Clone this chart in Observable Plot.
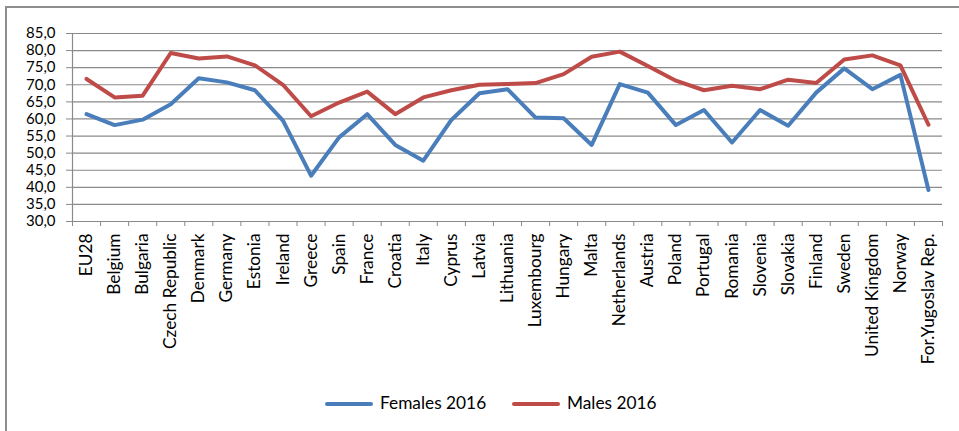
<!DOCTYPE html>
<html><head><meta charset="utf-8">
<script src="https://cdn.jsdelivr.net/npm/d3@7"></script>
<script src="https://cdn.jsdelivr.net/npm/@observablehq/plot@0.6"></script>
<style>
body{margin:0;background:#fff;}
#wrap{position:relative;width:959px;height:431px;overflow:hidden;font-family:Lato, sans-serif;}
#frame{position:absolute;left:5px;top:6px;width:980px;height:450px;border-left:2.5px solid #8e8e8e;border-top:2.5px solid #8e8e8e;}
#chart{position:absolute;left:0;top:0;}
.li{position:absolute;top:393px;height:20px;font-size:17.3px;line-height:20px;color:#000;white-space:nowrap;}
.sw{position:absolute;top:9px;height:4px;width:48px;border-radius:2px;}
</style>
</head><body>
<div id="wrap"><div id="frame"></div><div id="chart"></div></div>
<script>
const countries = ["EU28","Belgium","Bulgaria","Czech Republic","Denmark","Germany","Estonia","Ireland","Greece","Spain","France","Croatia","Italy","Cyprus","Latvia","Lithuania","Luxembourg","Hungary","Malta","Netherlands","Austria","Poland","Portugal","Romania","Slovenia","Slovakia","Finland","Sweden","United Kingdom","Norway","For.Yugoslav Rep."];
const females = [61.4,58.2,59.8,64.3,71.9,70.7,68.4,59.5,43.4,54.6,61.4,52.4,47.8,59.7,67.5,68.7,60.4,60.2,52.4,70.2,67.7,58.2,62.6,53.1,62.6,58.0,67.7,74.8,68.7,72.9,39.2];
const males = [71.7,66.3,66.8,79.3,77.7,78.3,75.7,70.0,60.8,64.8,68.0,61.4,66.3,68.4,70.0,70.2,70.5,73.1,78.2,79.7,75.5,71.2,68.4,69.7,68.7,71.5,70.5,77.4,78.6,75.7,58.3];
const seriesNames = ["Females 2016","Males 2016"];
const seriesColors = ["#4a7ebb","#be4b48"];
const yTicks = [30,35,40,45,50,55,60,65,70,75,80,85];

const idx = countries.map((_, i) => i);
const gridGray = "#8a8a8a";
const plot = Plot.plot({
  width: 959, height: 380,
  marginLeft: 72, marginRight: 17, marginTop: 33, marginBottom: 159,
  style: {fontFamily: "Lato, sans-serif", fontSize: "17.3px", color: "#000", background: "transparent"},
  x: {type: "linear", domain: [-0.5, countries.length - 0.5], axis: null},
  y: {domain: [30, 85], axis: null},
  marks: [
    Plot.gridY(yTicks.filter(d => d > 30), {stroke: gridGray, strokeOpacity: 1, strokeWidth: 1.2}),
    Plot.ruleY([30], {stroke: gridGray, strokeWidth: 1.2}),
    Plot.ruleX([-0.5], {y1: 30, y2: 85, stroke: gridGray, strokeWidth: 1.2}),
    Plot.axisY({ticks: yTicks, tickFormat: d => d.toFixed(1).replace(".", ","), tickSize: 6, tickPadding: 11, stroke: gridGray, fontSize: 15}),
    Plot.axisX({ticks: d3.range(-0.5, countries.length, 1), tickFormat: () => "", tickSize: 5, stroke: gridGray}),
    Plot.axisX({ticks: idx, tickFormat: i => countries[i], tickSize: 0, tickRotate: -90, tickPadding: 12, fontSize: 17.3}),
    Plot.line(females, {x: (d, i) => i, y: d => d, stroke: seriesColors[0], strokeWidth: 4, strokeLinejoin: "round"}),
    Plot.line(males, {x: (d, i) => i, y: d => d, stroke: seriesColors[1], strokeWidth: 4, strokeLinejoin: "round"})
  ]
});
document.getElementById("chart").appendChild(plot);

const wrap = document.getElementById("wrap");
const legendX = [325, 512];
seriesNames.forEach((name, k) => {
  const li = document.createElement("div");
  li.className = "li";
  li.style.left = legendX[k] + "px";
  li.innerHTML = `<span class="sw" style="left:0;background:${seriesColors[k]}"></span><span style="margin-left:55px">${name}</span>`;
  wrap.appendChild(li);
});
</script>
</body></html>
